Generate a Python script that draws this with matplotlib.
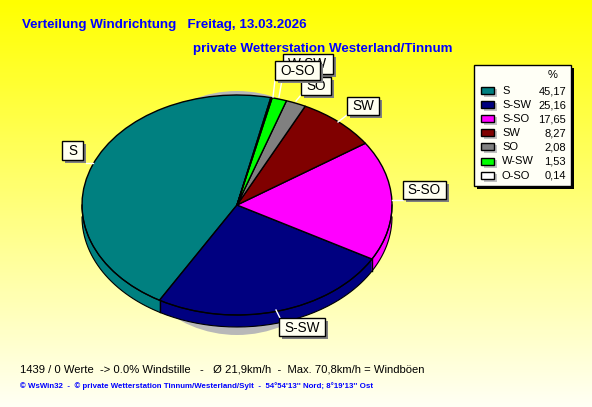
import numpy as np
import matplotlib
matplotlib.use("Agg")
import matplotlib.pyplot as plt
from matplotlib.colors import LinearSegmentedColormap
from matplotlib.patches import Ellipse, Rectangle

labels = ["S", "S-SW", "S-SO", "SW", "SO", "W-SW", "O-SO"]
values = [45.17, 25.16, 17.65, 8.27, 2.08, 1.53, 0.14]
value_text = ["45,17", "25,16", "17,65", "8,27", "2,08", "1,53", "0,14"]
colors = ["#008080", "#000080", "#FF00FF", "#800000", "#808080", "#00FF00", "#FFFFFF"]

title1 = "Verteilung Windrichtung   Freitag, 13.03.2026"
title2 = "private Wetterstation Westerland/Tinnum"
footer1 = "1439 / 0 Werte  -> 0.0% Windstille   -   \u00d8 21,9km/h  -  Max. 70,8km/h = Windb\u00f6en"
footer2 = "\u00a9 WsWin32  -  \u00a9 private Wetterstation Tinnum/Westerland/Sylt  -  54\u00b054'13'' Nord; 8\u00b019'13'' Ost"

W, H = 592, 407
cx, cy, rx, ry, depth = 237, 205, 155, 110, 12
start = 77.4

plt.rcParams["font.family"] = ["Liberation Sans", "DejaVu Sans"]
fig = plt.figure(figsize=(W / 100, H / 100), dpi=100)

# background and shadow, pixel coords
bg = fig.add_axes([0, 0, 1, 1])
bg.set_xlim(0, W)
bg.set_ylim(H, 0)
bg.axis("off")
grad = LinearSegmentedColormap.from_list("bg", ["#FFFF00", "#FFFFF4"])
bg.imshow(np.linspace(0, 1, H).reshape(-1, 1), cmap=grad, extent=(0, W, H, 0), aspect="auto")
bg.add_patch(Ellipse((cx, 213), 240, 244, color="#B8B8B8", lw=0))


def pie_at(offset, edge):
    ax = fig.add_axes([0, -offset / H, 1, 1])
    ax.patch.set_alpha(0)
    wedgeprops = {"edgecolor": "black", "linewidth": 1} if edge else {"linewidth": 0}
    ax.pie(values, colors=colors, startangle=start, counterclock=True, radius=1,
           center=(cx / rx, (H - cy) / ry), wedgeprops=wedgeprops, frame=False)
    ax.set_aspect("auto")
    ax.set_xlim(0, W / rx)
    ax.set_ylim(0, H / ry)
    ax.axis("off")


# side wall, then top face
for d in range(depth, 0, -1):
    pie_at(d, False)
pie_at(0, True)

top = fig.add_axes([0, 0, 1, 1])
top.set_xlim(0, W)
top.set_ylim(H, 0)
top.axis("off")
top.patch.set_alpha(0)

# dividers on the side wall
angles = np.radians(start + np.cumsum(values) * 3.6)
for a in angles:
    if np.sin(a) < 0:
        x = cx + rx * np.cos(a)
        y = cy - ry * np.sin(a)
        top.plot([x, x], [y, y + depth], color="black", lw=1)

# rim and outer edge of the wall
t = np.radians(np.arange(180, 361))
top.plot(cx + rx * np.cos(t), cy - ry * np.sin(t), color="black", lw=0.8)
top.plot(cx + rx * np.cos(t), cy + depth - ry * np.sin(t), color="black", lw=0.8)

top.text(22, 25, title1, color="#0000FF", fontsize=9.6, fontweight="bold", va="center")
top.text(193, 49, title2, color="#0000FF", fontsize=9.6, fontweight="bold", va="center")
top.text(20, 369, footer1, color="black", fontsize=8.1, va="center")
top.text(20, 386, footer2, color="#0000FF", fontsize=5.7, fontweight="bold", va="center")

# leader lines
leaders = [[(86, 163), (93, 163)], [(276, 310), (280, 318)], [(403, 200), (392, 200)],
           [(347, 115), (338, 122)], [(301, 95), (296, 101)], [(275, 80), (273, 97)],
           [(282, 80), (279, 97)]]
for p, q in leaders:
    top.plot([p[0], q[0]], [p[1], q[1]], color="white", lw=1)

# callouts: x0, y0, x1, y1 in back-to-front order
boxes = {
    "S": (62, 141, 83, 160),
    "S-SW": (279, 318, 325, 336),
    "S-SO": (403, 181, 446, 199),
    "SW": (347, 97, 379, 115),
    "W-SW": (283, 54, 333, 74),
    "SO": (301, 77, 331, 95),
    "O-SO": (275, 61, 320, 80),
}
for i, (name, (x0, y0, x1, y1)) in enumerate(boxes.items()):
    z = 5 + i
    top.add_patch(Rectangle((x0 + 3, y0 + 3), x1 - x0, y1 - y0, color="#808080", lw=0, zorder=z))
    top.add_patch(Rectangle((x0, y0), x1 - x0, y1 - y0, fc="#FFFFF0", ec="black", lw=1, zorder=z))
    top.text((x0 + x1) / 2, (y0 + y1) / 2 + 0.5, name, fontsize=9.8, color="black",
             ha="center", va="center", zorder=z)

# legend
top.add_patch(Rectangle((477, 68), 97, 121, color="black", lw=0))
top.add_patch(Rectangle((474, 65), 97, 121, fc="#FFFFF6", ec="black", lw=1))
top.text(553, 75, "%", fontsize=8, ha="center", va="center")
for i, name in enumerate(labels):
    y = 91 + i * 14.1
    top.add_patch(Rectangle((484, y - 2), 13, 8, color="#C0C0C0", lw=0))
    top.add_patch(Rectangle((481, y - 4), 13, 7, fc=colors[i], ec="black", lw=1))
    top.text(502, y, name, fontsize=8, va="center")
    top.text(566, y, value_text[i], fontsize=8, ha="right", va="center")

fig.savefig("out.png", dpi=100)
